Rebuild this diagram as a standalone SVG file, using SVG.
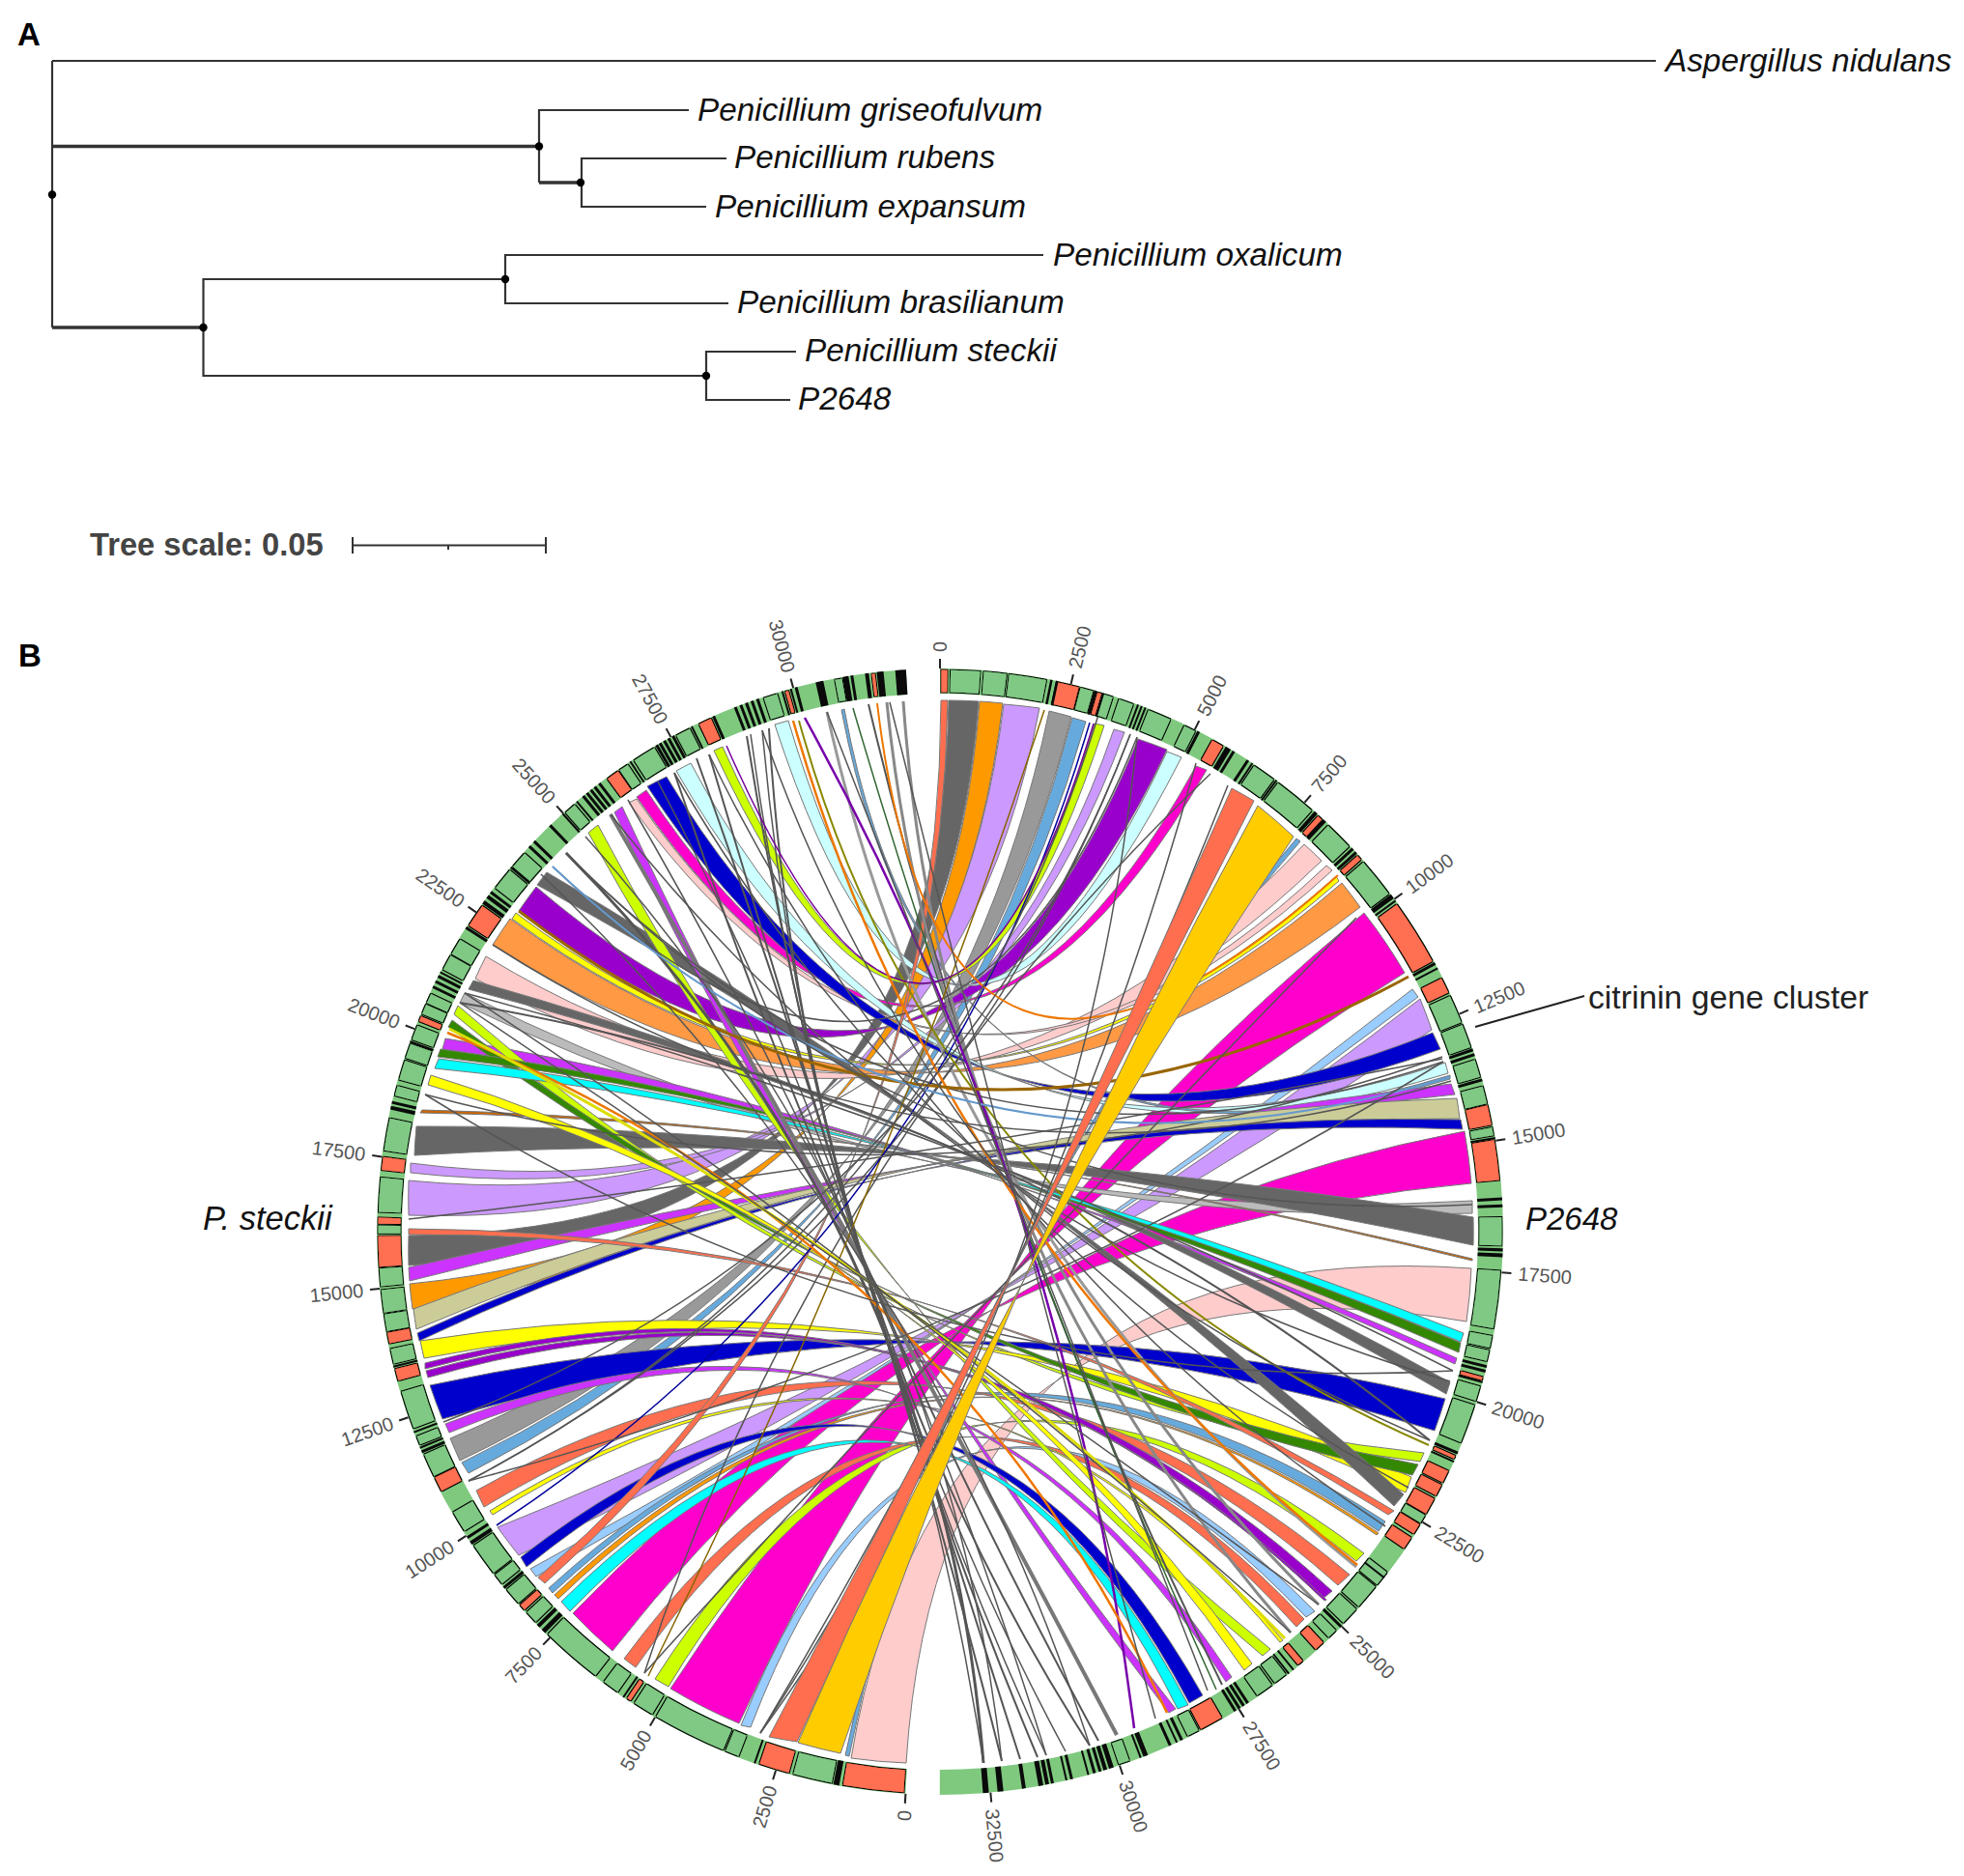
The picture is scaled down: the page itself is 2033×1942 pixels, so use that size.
<svg xmlns="http://www.w3.org/2000/svg" width="2033" height="1942" viewBox="0 0 2033 1942">
<style>
text{font-family:"Liberation Sans",Arial,sans-serif}
.sp{font-style:italic;font-size:33.3px;fill:#111}
.pl{font-weight:bold;font-size:33px;fill:#000}
.tick text{font-size:20px;fill:#555}
.tick line{stroke:#222;stroke-width:2}
#tree-connectors path{fill:none;stroke:#333;stroke-width:2.2}
#tree-connectors .th{stroke-width:3.4}
.nd{fill:#000}
.ring circle{r:57.2958px;fill:none}
.base circle{stroke:#7fc97f;stroke-width:2.6}
.g circle{stroke:#80c985;stroke-width:2.3}
.r circle{stroke:#ff7052;stroke-width:2.3}
.k circle{stroke:#0a0a0a;stroke-width:2.6}
#lines path{fill:none;stroke:#555;stroke-width:1.5}
#ribbons path,#ribbons-top path{stroke:#777;stroke-width:1}
.tom{fill:#ff6e4e}.gr6{fill:#666}.org{fill:#f90}.lav{fill:#c9f}.gr9{fill:#999}.ste{fill:#6ad}.yg{fill:#cf0}.pur{fill:#90c}.pal{fill:#cff}.mag{fill:#f0c}.gol{fill:#fc0}.pin{fill:#fcc}.san{fill:#f94}.ltb{fill:#9cf}.nav{fill:#00c}.vio{fill:#c3f}.kha{fill:#cc9}.cya{fill:#0ff}.dgr{fill:#380}.yel{fill:#ff0}.bro{fill:#c60}.grl{fill:#bbb}
</style>
<defs>
<filter id="o" filterUnits="userSpaceOnUse" x="0" y="0" width="2033" height="1942">
<feMorphology in="SourceAlpha" operator="dilate" radius="1.3" result="d"/>
<feMerge><feMergeNode in="d"/><feMergeNode in="SourceGraphic"/></feMerge>
</filter>
</defs>
<rect width="2033" height="1942" fill="#fff"/>

<text class="pl" x="18" y="47">A</text>
<text class="pl" x="19" y="690">B</text>

<g id="tree-connectors">
<path d="M54 63V339M54 63H1714"/>
<path class="th" d="M54 151.5H558"/>
<path d="M713 114H558V189"/>
<path class="th" d="M558 189H602"/>
<path d="M752 164H602V214H731"/>
<path class="th" d="M54 339H210.5"/>
<path d="M523 289H210.5V389H731"/>
<path d="M1080 264H523V314H754"/>
<path d="M824 364H731V414H818"/>
</g>
<g id="tree-nodes">
<circle class="nd" cx="54" cy="201.5" r="4.2"/>
<circle class="nd" cx="558" cy="151.5" r="4.2"/>
<circle class="nd" cx="601" cy="189" r="4.2"/>
<circle class="nd" cx="210.5" cy="339" r="4.2"/>
<circle class="nd" cx="523" cy="289" r="4.2"/>
<circle class="nd" cx="731" cy="389" r="4.2"/>
</g>
<g id="leaf-aspergillus"><text class="sp" x="1724" y="74">Aspergillus nidulans</text></g>
<g id="leaf-griseofulvum"><text class="sp" x="722" y="125">Penicillium griseofulvum</text></g>
<g id="leaf-rubens"><text class="sp" x="760" y="174">Penicillium rubens</text></g>
<g id="leaf-expansum"><text class="sp" x="740" y="225">Penicillium expansum</text></g>
<g id="leaf-oxalicum"><text class="sp" x="1090" y="275">Penicillium oxalicum</text></g>
<g id="leaf-brasilianum"><text class="sp" x="763" y="324">Penicillium brasilianum</text></g>
<g id="leaf-steckii"><text class="sp" x="833" y="374">Penicillium steckii</text></g>
<g id="leaf-p2648"><text class="sp" x="826" y="424">P2648</text></g>

<g id="scale">
<text x="93" y="575" font-size="32.7" font-weight="bold" fill="#444">Tree scale: 0.05</text>
<path d="M365 564.5H565M365 556V573M565 556V573M464 564.5V569" fill="none" stroke="#333" stroke-width="2"/>
</g>

<g id="ribbons">
<path class="lav" d="M1039 729A552 552 0 0 1 1076 733Q973 1275 423 1222A552 552 0 0 0 423 1258Q973 1275 1039 729Z"/>
<path class="gr6" d="M982 725A552 552 0 0 1 1013 726Q973 1275 423 1279A552 552 0 0 0 423 1310Q973 1275 982 725Z"/>
<path class="org" d="M1014 726A552 552 0 0 1 1038 728Q973 1275 424 1329A552 552 0 0 0 427 1355Q973 1275 1014 726Z"/>
<path class="gr9" d="M1086 736A552 552 0 0 1 1109 742Q973 1275 466 1489A552 552 0 0 0 476 1512Q973 1275 1086 736Z"/>
<path class="ste" d="M1110 743A552 552 0 0 1 1124 747Q973 1275 478 1514A552 552 0 0 0 485 1525Q973 1275 1110 743Z"/>
<path class="yg" d="M1133 749A552 552 0 0 1 1143 751Q973 1275 748 773A552 552 0 0 0 739 777Q973 1275 1133 749Z"/>
<path class="lav" d="M1153 755A552 552 0 0 1 1164 758Q973 1275 425 1204A552 552 0 0 0 425 1214Q973 1275 1153 755Z"/>
<path class="pur" d="M1178 765A552 552 0 0 1 1208 776Q973 1275 555 918A552 552 0 0 0 537 943Q973 1275 1178 765Z"/>
<path class="pal" d="M1208 778A552 552 0 0 1 1223 784Q973 1275 816 746A552 552 0 0 0 802 750Q973 1275 1208 778Z"/>
<path class="mag" d="M1238 793A552 552 0 0 1 1249 797Q973 1275 669 818A552 552 0 0 0 659 825Q973 1275 1238 793Z"/>
<path class="ste" d="M1342 868A552 552 0 0 1 1346 871Q987 1282 875 1817A552 552 0 0 0 879 1818Q987 1282 1342 868Z"/>
<path class="pin" d="M1350 874A552 552 0 0 1 1368 891Q973 1275 503 990A552 552 0 0 0 492 1013Q973 1275 1350 874Z"/>
<path class="pin" d="M1373 896A552 552 0 0 1 1379 901Q973 1275 659 827A552 552 0 0 0 651 831Q973 1275 1373 896Z"/>
<path class="san" d="M1389 914A552 552 0 0 1 1408 939Q973 1275 528 951A552 552 0 0 0 510 978Q973 1275 1389 914Z"/>
<path class="yel" d="M1383 907A552 552 0 0 1 1386 912Q973 1275 534 945A552 552 0 0 0 530 951Q973 1275 1383 907Z"/>
<path class="mag" d="M1412 945A552 552 0 0 1 1454 1007Q992 1292 694 1748A552 552 0 0 0 765 1784Q992 1292 1412 945Z"/>
<path class="mag" d="M1516 1171A552 552 0 0 1 1523 1225Q973 1275 593 1670A552 552 0 0 0 634 1709Q973 1275 1516 1171Z"/>
<path class="pin" d="M1523 1313A552 552 0 0 1 1518 1368Q973 1275 881 1820A552 552 0 0 0 938 1825Q973 1275 1523 1313Z"/>
<path class="ltb" d="M1462 1024A552 552 0 0 1 1468 1032Q1032 1363 549 1624A552 552 0 0 0 555 1632Q1032 1363 1462 1024Z"/>
<path class="lav" d="M1470 1034A552 552 0 0 1 1482 1066Q1031 1373 515 1581A552 552 0 0 0 537 1610Q1031 1373 1470 1034Z"/>
<path class="nav" d="M1483 1069A552 552 0 0 1 1491 1086Q973 1275 690 804A552 552 0 0 0 670 814Q973 1275 1483 1069Z"/>
<path class="pal" d="M1496 1100A552 552 0 0 1 1499 1111Q973 1275 715 790A552 552 0 0 0 700 798Q973 1275 1496 1100Z"/>
<path class="ste" d="M1501 1113A552 552 0 0 1 1501 1117Q973 1275 874 734A552 552 0 0 0 871 735Q973 1275 1501 1113Z"/>
<path class="vio" d="M1502 1122A552 552 0 0 1 1506 1133Q954 1190 423 1312A552 552 0 0 0 424 1326Q954 1190 1502 1122Z"/>
<path class="kha" d="M1508 1137A552 552 0 0 1 1511 1158Q948 1156 428 1355A552 552 0 0 0 431 1376Q948 1156 1508 1137Z"/>
<path class="nav" d="M1512 1159A552 552 0 0 1 1514 1169Q945 1146 432 1380A552 552 0 0 0 434 1388Q945 1146 1512 1159Z"/>
<path class="grl" d="M1524 1243A552 552 0 0 1 1524 1256Q973 1275 481 1028A552 552 0 0 0 476 1038Q973 1275 1524 1243Z"/>
<path class="gr6" d="M1525 1260A552 552 0 0 1 1525 1289Q940 1164 431 1166A552 552 0 0 0 429 1196Q940 1164 1525 1260Z"/>
<path class="bro" d="M1524 1303A552 552 0 0 1 1524 1305Q940 1161 437 1149A552 552 0 0 0 435 1152Q940 1161 1524 1303Z"/>
<path class="vio" d="M1508 1406A552 552 0 0 1 1506 1412Q936 1150 461 1075A552 552 0 0 0 458 1086Q936 1150 1508 1406Z"/>
<path class="gr6" d="M1501 1431A552 552 0 0 1 1497 1443Q1021 1165 490 1015A552 552 0 0 0 485 1024Q1021 1165 1501 1431Z"/>
<path class="yg" d="M1474 1504A552 552 0 0 1 1470 1513Q946 1450 474 1041A552 552 0 0 0 470 1050Q946 1450 1474 1504Z"/>
<path class="yel" d="M1461 1529A552 552 0 0 1 1455 1545Q960 1305 435 1388A552 552 0 0 0 439 1406Q960 1305 1461 1529Z"/>
<path class="nav" d="M1496 1448A552 552 0 0 1 1485 1481Q973 1320 445 1434A552 552 0 0 0 458 1469Q973 1320 1496 1448Z"/>
<path class="dgr" d="M1468 1516A552 552 0 0 1 1462 1527Q946 1416 468 1056A552 552 0 0 0 464 1063Q946 1416 1468 1516Z"/>
<path class="dgr" d="M1512 1390A552 552 0 0 1 1510 1400Q936 1150 456 1086A552 552 0 0 0 453 1094Q936 1150 1512 1390Z"/>
<path class="cya" d="M1515 1380A552 552 0 0 1 1512 1389Q936 1153 454 1096A552 552 0 0 0 450 1106Q936 1153 1515 1380Z"/>
<path class="gr6" d="M1453 1547A552 552 0 0 1 1443 1559Q1041 1181 566 903A552 552 0 0 0 556 916Q1041 1181 1453 1547Z"/>
<path class="tom" d="M1443 1564A552 552 0 0 1 1437 1568Q973 1275 423 1272A552 552 0 0 0 423 1278Q973 1275 1443 1564Z"/>
<path class="ste" d="M1434 1575A552 552 0 0 1 1427 1585Q973 1275 568 1644A552 552 0 0 0 572 1649Q973 1275 1434 1575Z"/>
<path class="org" d="M1427 1587A552 552 0 0 1 1425 1589Q973 1275 574 1651A552 552 0 0 0 578 1655Q973 1275 1427 1587Z"/>
<path class="yg" d="M1412 1608A552 552 0 0 1 1404 1616Q973 1275 678 1738A552 552 0 0 0 692 1746Q973 1275 1412 1608Z"/>
<path class="tom" d="M1397 1630A552 552 0 0 1 1385 1641Q973 1275 493 1543A552 552 0 0 0 501 1560Q973 1275 1397 1630Z"/>
<path class="pur" d="M1379 1647A552 552 0 0 1 1369 1655Q973 1275 441 1419A552 552 0 0 0 443 1426Q973 1275 1379 1647Z"/>
<path class="pur" d="M1373 1656A552 552 0 0 1 1371 1657Q973 1275 440 1411A552 552 0 0 0 440 1417Q973 1275 1373 1656Z"/>
<path class="ltb" d="M1361 1668A552 552 0 0 1 1352 1674Q973 1275 767 1786A552 552 0 0 0 777 1788Q973 1275 1361 1668Z"/>
<path class="tom" d="M1350 1676A552 552 0 0 1 1342 1684Q973 1275 646 1717A552 552 0 0 0 658 1726Q973 1275 1350 1676Z"/>
<path class="yel" d="M1328 1698A552 552 0 0 1 1325 1700Q973 1275 507 1564A552 552 0 0 0 510 1568Q973 1275 1328 1698Z"/>
<path class="yg" d="M1315 1707A552 552 0 0 1 1307 1714Q888 1364 619 854A552 552 0 0 0 609 862Q888 1364 1315 1707Z"/>
<path class="yel" d="M1296 1722A552 552 0 0 1 1288 1729Q973 1275 446 1113A552 552 0 0 0 443 1123Q973 1275 1296 1722Z"/>
<path class="vio" d="M1275 1736A552 552 0 0 1 1269 1741Q973 1275 461 1474A552 552 0 0 0 465 1483Q973 1275 1275 1736Z"/>
<path class="vio" d="M1217 1769A552 552 0 0 1 1210 1773Q876 1337 644 835A552 552 0 0 0 636 841Q876 1337 1217 1769Z"/>
<path class="cya" d="M1230 1765A552 552 0 0 1 1219 1769Q973 1275 581 1658A552 552 0 0 0 590 1668Q973 1275 1230 1765Z"/>
<path class="nav" d="M1245 1755A552 552 0 0 1 1231 1763Q973 1275 539 1612A552 552 0 0 0 545 1622Q973 1275 1245 1755Z"/>
<path class="tom" d="M974 725A552 552 0 0 1 981 725Q973 1275 557 1633A552 552 0 0 0 564 1639Q973 1275 974 725Z"/>
</g>

<g id="lines">
<path style="stroke-width:3" d="M1018 1825Q973 1275 586 883"/>
<path style="stroke-width:2" d="M1037 1823Q905 1297 721 785"/>
<path style="stroke-width:2" d="M1056 1821Q890 1303 734 781"/>
<path style="stroke-width:2" d="M1074 1819Q861 1311 773 762"/>
<path d="M1083 1817Q853 1315 777 760"/>
<path d="M1103 1813Q840 1325 789 756"/>
<path style="stroke-width:2" d="M1128 1807Q831 1345 796 754"/>
<path style="stroke-width:2" d="M1137 1802Q875 1320 698 800"/>
<path style="stroke-width:4;stroke:#777" d="M1156 1796Q903 1314 632 843"/>
<path style="stroke-width:2" d="M1265 1744Q1024 1257 899 729"/>
<path style="stroke:#363" d="M1259 1749Q1035 1253 883 733"/>
<path style="stroke-width:3;stroke:#888" d="M1336 1690Q973 1275 935 726"/>
<path style="stroke-width:3;stroke:#888" d="M1365 1661Q973 1275 918 727"/>
<path style="stroke-width:3;stroke:#999" d="M1404 1622Q973 1275 856 737"/>
<path d="M1493 1094Q973 1275 440 1133"/>
<path d="M1494 1099Q973 1275 586 883"/>
<path d="M1504 1419Q1014 1169 481 1028"/>
<path d="M1170 760Q973 1275 485 1533"/>
<path d="M1177 763Q973 1275 572 897"/>
<path d="M787 1794Q1069 1323 1271 813"/>
<path d="M667 1732Q844 1190 1253 801"/>
<path style="stroke:#880;stroke-width:2" d="M1479 1496Q973 1275 827 746"/>
<path style="stroke:#860;stroke-width:1.5" d="M1081 735Q912 1250 671 1735"/>
<path style="stroke:#009" d="M1128 748Q973 1275 514 1579"/>
<path style="stroke:#709" d="M1132 749Q973 1275 752 772"/>
<path style="stroke:#70a;stroke-width:2.5" d="M1174 1789Q1105 1235 833 743"/>
<path style="stroke:#e70;stroke-width:2.5" d="M1208 1773Q973 1275 463 1069"/>
<path style="stroke:#e70;stroke-width:2.5" d="M1405 1620Q973 1275 821 746"/>
<path style="stroke:#e70;stroke-width:2" d="M1385 906Q973 1275 908 728"/>
<path style="stroke:#960;stroke-width:3" d="M1458 1011Q973 1275 537 943"/>
<path style="stroke:#69c;stroke-width:2" d="M572 897Q973 1275 1500 1115"/>
<path style="stroke-width:2" d="M1480 1491Q1043 1134 476 1038"/>
<path style="stroke:#dd0;stroke-width:3" d="M465 1065Q950 1308 1330 1696"/>
<path d="M787 1794Q1120 1337 1177 763"/>
<path d="M1502 1119Q973 1275 510 978"/>
<path d="M485 1533Q1020 1392 1494 1099"/>
<path d="M1365 1661Q927 1340 476 1038"/>
<path d="M423 1262Q962 1202 1493 1096"/>
<path d="M440 1133Q950 1450 1504 1419"/>
<path d="M481 1028Q934 1326 1336 1690"/>
<path d="M586 883Q973 1275 1524 1247"/>
<path d="M632 843Q973 1275 1501 1430"/>
<path d="M698 800Q973 1275 1480 1491"/>
<path d="M734 781Q973 1275 1458 1540"/>
<path d="M789 756Q973 1275 1434 1580"/>
<path d="M856 737Q1051 1244 1250 1750"/>
<path d="M921 727Q1052 1254 1196 1779"/>
<path d="M485 1533Q973 1275 1137 740"/>
<path d="M459 1472Q973 1275 1170 760"/>
<path d="M667 1732Q1028 1333 1404 950"/>
<path d="M787 1794Q1091 1325 1238 790"/>
<path d="M1128 1807Q958 1285 560 905"/>
<path d="M1083 1817Q924 1297 650 828"/>
<path d="M1037 1823Q973 1275 606 866"/>
<path d="M1018 1825Q935 1288 681 809"/>
</g>

<g id="ribbons-top">
<path class="tom" d="M1275 816A552 552 0 0 1 1298 829Q1052 1314 796 1798A552 552 0 0 0 825 1803Q1052 1314 1275 816Z"/>
<path class="gol" d="M1302 834A552 552 0 0 1 1339 866Q1040 1310 826 1804A552 552 0 0 0 870 1815Q1040 1310 1302 834Z"/>
</g>

<g class="ring" id="ring-base"><g class="base" transform="translate(973 1275) rotate(-90) scale(9.948)">
<circle stroke-dasharray="180 360"/>
<circle stroke-dasharray="173 360" stroke-dashoffset="-183.5"/>
</g></g>

<g class="ring" id="ring-boxes" filter="url(#o)"><g transform="translate(973 1275) rotate(-90) scale(9.948)">
<g class="g">
<circle stroke-dasharray="3 360" stroke-dashoffset="-1.1"/><circle stroke-dasharray="2.3 360" stroke-dashoffset="-4.5"/><circle stroke-dasharray="3.8 360" stroke-dashoffset="-7.1"/><circle stroke-dasharray="1.3 360" stroke-dashoffset="-14.5"/><circle stroke-dasharray=".9 360" stroke-dashoffset="-17"/><circle stroke-dasharray="1.5 360" stroke-dashoffset="-18.6"/><circle stroke-dasharray="2.4 360" stroke-dashoffset="-21.8"/><circle stroke-dasharray="1.2 360" stroke-dashoffset="-25.8"/><circle stroke-dasharray="2.4 360" stroke-dashoffset="-34"/><circle stroke-dasharray="4.4 360" stroke-dashoffset="-37"/><circle stroke-dasharray="3 360" stroke-dashoffset="-43.7"/><circle stroke-dasharray="4.1 360" stroke-dashoffset="-48.9"/><circle stroke-dasharray="2.9 360" stroke-dashoffset="-65.2"/><circle stroke-dasharray="2.4 360" stroke-dashoffset="-68.4"/><circle stroke-dasharray="1.8 360" stroke-dashoffset="-72.2"/><circle stroke-dasharray="1.8 360" stroke-dashoffset="-75"/><circle stroke-dasharray=".8 360" stroke-dashoffset="-79.3"/><circle stroke-dasharray="2.9 360" stroke-dashoffset="-88.5"/><circle stroke-dasharray="5.9 360" stroke-dashoffset="-94"/><circle stroke-dasharray="1.2 360" stroke-dashoffset="-100.7"/><circle stroke-dasharray="1.1 360" stroke-dashoffset="-102.2"/><circle stroke-dasharray="1.5 360" stroke-dashoffset="-106"/><circle stroke-dasharray="4 360" stroke-dashoffset="-108"/><circle stroke-dasharray=".9 360" stroke-dashoffset="-120.3"/><circle stroke-dasharray="1.6 360" stroke-dashoffset="-127.3"/><circle stroke-dasharray="2.6 360" stroke-dashoffset="-129.2"/><circle stroke-dasharray="1.9 360" stroke-dashoffset="-132.2"/><circle stroke-dasharray="1 360" stroke-dashoffset="-135.2"/><circle stroke-dasharray="1.4 360" stroke-dashoffset="-142"/><circle stroke-dasharray="1.8 360" stroke-dashoffset="-143.8"/><circle stroke-dasharray="1.2 360" stroke-dashoffset="-152.6"/><circle stroke-dasharray="1.1 360" stroke-dashoffset="-160.3"/>
<circle stroke-dasharray="4 360" stroke-dashoffset="-191.1"/><circle stroke-dasharray="1.4 360" stroke-dashoffset="-201"/><circle stroke-dasharray="7.6 360" stroke-dashoffset="-202.7"/><circle stroke-dasharray="2.1 360" stroke-dashoffset="-210.8"/><circle stroke-dasharray="1.7 360" stroke-dashoffset="-215"/><circle stroke-dasharray="6.4 360" stroke-dashoffset="-217.8"/><circle stroke-dasharray="1.3 360" stroke-dashoffset="-226"/><circle stroke-dasharray="1.8 360" stroke-dashoffset="-228.6"/><circle stroke-dasharray="1.1 360" stroke-dashoffset="-231.2"/><circle stroke-dasharray="3.4 360" stroke-dashoffset="-232.6"/><circle stroke-dasharray="2.2 360" stroke-dashoffset="-237.8"/><circle stroke-dasharray="2.4 360" stroke-dashoffset="-244.2"/><circle stroke-dasharray=".9 360" stroke-dashoffset="-247.7"/><circle stroke-dasharray="3.9 360" stroke-dashoffset="-249.5"/><circle stroke-dasharray="1.5 360" stroke-dashoffset="-256.4"/><circle stroke-dasharray="1.7 360" stroke-dashoffset="-259.8"/><circle stroke-dasharray="2.3 360" stroke-dashoffset="-261.7"/><circle stroke-dasharray="1.8 360" stroke-dashoffset="-264.4"/><circle stroke-dasharray=".8 360" stroke-dashoffset="-269.8"/><circle stroke-dasharray="3.5 360" stroke-dashoffset="-272"/><circle stroke-dasharray="3.3 360" stroke-dashoffset="-278.3"/><circle stroke-dasharray="1 360" stroke-dashoffset="-284"/><circle stroke-dasharray="2 360" stroke-dashoffset="-285.7"/><circle stroke-dasharray="1.5 360" stroke-dashoffset="-288"/><circle stroke-dasharray="1.5 360" stroke-dashoffset="-290"/><circle stroke-dasharray="1 360" stroke-dashoffset="-292.8"/><circle stroke-dasharray="1 360" stroke-dashoffset="-294"/><circle stroke-dasharray="1.6 360" stroke-dashoffset="-297.8"/><circle stroke-dasharray="1.7 360" stroke-dashoffset="-299.6"/><circle stroke-dasharray="2.3 360" stroke-dashoffset="-307.7"/><circle stroke-dasharray="1.8 360" stroke-dashoffset="-310.5"/><circle stroke-dasharray="1.2 360" stroke-dashoffset="-318.2"/><circle stroke-dasharray="1 360" stroke-dashoffset="-325.2"/><circle stroke-dasharray="2.4 360" stroke-dashoffset="-327"/><circle stroke-dasharray="1.5 360" stroke-dashoffset="-332"/><circle stroke-dasharray="1.4 360" stroke-dashoffset="-341.7"/><circle stroke-dasharray=".7 360" stroke-dashoffset="-349.2"/>
</g>
<g class="r">
<circle stroke-dasharray=".6 360" stroke-dashoffset="-.15"/><circle stroke-dasharray="2.3 360" stroke-dashoffset="-12"/><circle stroke-dasharray=".4 360" stroke-dashoffset="-16.3"/><circle stroke-dasharray="1.2 360" stroke-dashoffset="-29"/><circle stroke-dasharray=".5 360" stroke-dashoffset="-42.3"/><circle stroke-dasharray=".5 360" stroke-dashoffset="-48"/><circle stroke-dasharray="6.8 360" stroke-dashoffset="-54.4"/><circle stroke-dasharray="1.6 360" stroke-dashoffset="-63.2"/><circle stroke-dasharray="2 360" stroke-dashoffset="-77"/><circle stroke-dasharray="4.1 360" stroke-dashoffset="-80.6"/><circle stroke-dasharray=".3 360" stroke-dashoffset="-105"/><circle stroke-dasharray=".3 360" stroke-dashoffset="-113.5"/><circle stroke-dasharray="1.3 360" stroke-dashoffset="-115.2"/><circle stroke-dasharray="1.2 360" stroke-dashoffset="-116.8"/><circle stroke-dasharray="1.7 360" stroke-dashoffset="-118.4"/><circle stroke-dasharray="1.1 360" stroke-dashoffset="-121.4"/><circle stroke-dasharray="1.3 360" stroke-dashoffset="-123"/><circle stroke-dasharray="1 360" stroke-dashoffset="-137"/><circle stroke-dasharray=".6 360" stroke-dashoffset="-139.8"/><circle stroke-dasharray="2.4 360" stroke-dashoffset="-149.9"/>
<circle stroke-dasharray="6.2 360" stroke-dashoffset="-183.7"/><circle stroke-dasharray="3.1 360" stroke-dashoffset="-195.6"/><circle stroke-dasharray=".4 360" stroke-dashoffset="-213.4"/><circle stroke-dasharray=".6 360" stroke-dashoffset="-227.7"/><circle stroke-dasharray="1.5 360" stroke-dashoffset="-242.5"/><circle stroke-dasharray="1.2 360" stroke-dashoffset="-254.6"/><circle stroke-dasharray="1.1 360" stroke-dashoffset="-258.5"/><circle stroke-dasharray="3.1 360" stroke-dashoffset="-266.4"/><circle stroke-dasharray=".6 360" stroke-dashoffset="-270.8"/><circle stroke-dasharray="1.3 360" stroke-dashoffset="-276.3"/><circle stroke-dasharray=".5 360" stroke-dashoffset="-292"/><circle stroke-dasharray="2.4 360" stroke-dashoffset="-303"/><circle stroke-dasharray="1.3 360" stroke-dashoffset="-323.7"/><circle stroke-dasharray="1.3 360" stroke-dashoffset="-334.6"/><circle stroke-dasharray=".3 360" stroke-dashoffset="-344"/><circle stroke-dasharray=".3 360" stroke-dashoffset="-353"/>
</g>
</g></g>

<g class="ring" id="ring-bars"><g class="k" transform="translate(973 1275) rotate(-90) scale(9.948)">
<circle stroke-dasharray=".25 360" stroke-dashoffset="-11.3"/><circle stroke-dasharray=".25 360" stroke-dashoffset="-11.9"/><circle stroke-dasharray=".3 360" stroke-dashoffset="-15.9"/><circle stroke-dasharray=".15 360" stroke-dashoffset="-16.8"/><circle stroke-dasharray=".2 360" stroke-dashoffset="-20.5"/><circle stroke-dasharray=".2 360" stroke-dashoffset="-20.9"/><circle stroke-dasharray=".2 360" stroke-dashoffset="-21.3"/><circle stroke-dasharray=".3 360" stroke-dashoffset="-27.2"/><circle stroke-dasharray=".6 360" stroke-dashoffset="-30.5"/><circle stroke-dasharray=".3 360" stroke-dashoffset="-31.3"/><circle stroke-dasharray=".3 360" stroke-dashoffset="-33"/><circle stroke-dasharray=".2 360" stroke-dashoffset="-33.6"/><circle stroke-dasharray=".2 360" stroke-dashoffset="-36.6"/><circle stroke-dasharray=".4 360" stroke-dashoffset="-41.7"/><circle stroke-dasharray=".4 360" stroke-dashoffset="-42.9"/><circle stroke-dasharray=".3 360" stroke-dashoffset="-47"/><circle stroke-dasharray=".3 360" stroke-dashoffset="-47.5"/><circle stroke-dasharray=".5 360" stroke-dashoffset="-53.2"/><circle stroke-dasharray=".2 360" stroke-dashoffset="-53.9"/><circle stroke-dasharray=".3 360" stroke-dashoffset="-61.4"/><circle stroke-dasharray=".2 360" stroke-dashoffset="-62"/><circle stroke-dasharray=".3 360" stroke-dashoffset="-71"/><circle stroke-dasharray=".3 360" stroke-dashoffset="-71.5"/><circle stroke-dasharray=".3 360" stroke-dashoffset="-74.2"/><circle stroke-dasharray=".2 360" stroke-dashoffset="-80.3"/><circle stroke-dasharray=".3 360" stroke-dashoffset="-86.5"/><circle stroke-dasharray=".3 360" stroke-dashoffset="-87.2"/><circle stroke-dasharray=".3 360" stroke-dashoffset="-91.7"/><circle stroke-dasharray=".4 360" stroke-dashoffset="-92.2"/><circle stroke-dasharray=".3 360" stroke-dashoffset="-103.7"/><circle stroke-dasharray=".3 360" stroke-dashoffset="-104.2"/><circle stroke-dasharray=".2 360" stroke-dashoffset="-105.4"/><circle stroke-dasharray=".3 360" stroke-dashoffset="-113"/><circle stroke-dasharray=".2 360" stroke-dashoffset="-114"/><circle stroke-dasharray=".2 360" stroke-dashoffset="-127.8"/><circle stroke-dasharray=".3 360" stroke-dashoffset="-134.4"/><circle stroke-dasharray=".2 360" stroke-dashoffset="-141"/><circle stroke-dasharray=".2 360" stroke-dashoffset="-141.6"/><circle stroke-dasharray=".3 360" stroke-dashoffset="-146.7"/><circle stroke-dasharray=".3 360" stroke-dashoffset="-147.2"/><circle stroke-dasharray=".3 360" stroke-dashoffset="-147.7"/><circle stroke-dasharray=".3 360" stroke-dashoffset="-148.2"/><circle stroke-dasharray=".3 360" stroke-dashoffset="-154.4"/><circle stroke-dasharray=".2 360" stroke-dashoffset="-155"/><circle stroke-dasharray=".3 360" stroke-dashoffset="-155.7"/><circle stroke-dasharray=".5 360" stroke-dashoffset="-158.3"/><circle stroke-dasharray=".2 360" stroke-dashoffset="-159"/><circle stroke-dasharray=".5 360" stroke-dashoffset="-162"/><circle stroke-dasharray=".4 360" stroke-dashoffset="-162.7"/><circle stroke-dasharray=".3 360" stroke-dashoffset="-163.3"/><circle stroke-dasharray=".3 360" stroke-dashoffset="-163.9"/><circle stroke-dasharray=".2 360" stroke-dashoffset="-164.6"/><circle stroke-dasharray=".3 360" stroke-dashoffset="-166.3"/><circle stroke-dasharray=".2 360" stroke-dashoffset="-166.9"/><circle stroke-dasharray=".3 360" stroke-dashoffset="-168.3"/><circle stroke-dasharray=".4 360" stroke-dashoffset="-168.8"/><circle stroke-dasharray=".5 360" stroke-dashoffset="-169.4"/><circle stroke-dasharray=".4 360" stroke-dashoffset="-171.2"/><circle stroke-dasharray=".6 360" stroke-dashoffset="-173.5"/><circle stroke-dasharray=".6 360" stroke-dashoffset="-175"/>
<circle stroke-dasharray=".6 360" stroke-dashoffset="-190.3"/><circle stroke-dasharray=".2 360" stroke-dashoffset="-199.1"/><circle stroke-dasharray=".2 360" stroke-dashoffset="-214.1"/><circle stroke-dasharray=".5 360" stroke-dashoffset="-224.5"/><circle stroke-dasharray=".4 360" stroke-dashoffset="-225.3"/><circle stroke-dasharray=".3 360" stroke-dashoffset="-230.6"/><circle stroke-dasharray=".4 360" stroke-dashoffset="-236.2"/><circle stroke-dasharray=".3 360" stroke-dashoffset="-236.9"/><circle stroke-dasharray=".3 360" stroke-dashoffset="-246.8"/><circle stroke-dasharray=".2 360" stroke-dashoffset="-247.3"/><circle stroke-dasharray=".2 360" stroke-dashoffset="-249"/><circle stroke-dasharray=".2 360" stroke-dashoffset="-256"/><circle stroke-dasharray=".4 360" stroke-dashoffset="-282.5"/><circle stroke-dasharray=".3 360" stroke-dashoffset="-283.1"/><circle stroke-dasharray=".2 360" stroke-dashoffset="-289.6"/><circle stroke-dasharray=".3 360" stroke-dashoffset="-295.6"/><circle stroke-dasharray=".3 360" stroke-dashoffset="-296.2"/><circle stroke-dasharray=".3 360" stroke-dashoffset="-296.8"/><circle stroke-dasharray=".2 360" stroke-dashoffset="-297.3"/><circle stroke-dasharray=".3 360" stroke-dashoffset="-302.5"/><circle stroke-dasharray=".4 360" stroke-dashoffset="-305.6"/><circle stroke-dasharray=".4 360" stroke-dashoffset="-306.3"/><circle stroke-dasharray=".3 360" stroke-dashoffset="-306.9"/><circle stroke-dasharray=".2 360" stroke-dashoffset="-310.2"/><circle stroke-dasharray=".3 360" stroke-dashoffset="-313"/><circle stroke-dasharray=".3 360" stroke-dashoffset="-313.7"/><circle stroke-dasharray=".3 360" stroke-dashoffset="-316"/><circle stroke-dasharray=".2 360" stroke-dashoffset="-317.8"/><circle stroke-dasharray=".2 360" stroke-dashoffset="-319.7"/><circle stroke-dasharray=".3 360" stroke-dashoffset="-320.5"/><circle stroke-dasharray=".3 360" stroke-dashoffset="-321"/><circle stroke-dasharray=".3 360" stroke-dashoffset="-321.5"/><circle stroke-dasharray=".3 360" stroke-dashoffset="-322"/><circle stroke-dasharray=".3 360" stroke-dashoffset="-322.6"/><circle stroke-dasharray=".2 360" stroke-dashoffset="-326.5"/><circle stroke-dasharray=".3 360" stroke-dashoffset="-329.6"/><circle stroke-dasharray=".3 360" stroke-dashoffset="-330"/><circle stroke-dasharray=".3 360" stroke-dashoffset="-330.5"/><circle stroke-dasharray=".3 360" stroke-dashoffset="-331"/><circle stroke-dasharray=".3 360" stroke-dashoffset="-331.5"/><circle stroke-dasharray=".2 360" stroke-dashoffset="-333.7"/><circle stroke-dasharray=".3 360" stroke-dashoffset="-336.1"/><circle stroke-dasharray=".3 360" stroke-dashoffset="-338.5"/><circle stroke-dasharray=".3 360" stroke-dashoffset="-339.1"/><circle stroke-dasharray=".3 360" stroke-dashoffset="-339.7"/><circle stroke-dasharray=".3 360" stroke-dashoffset="-340.3"/><circle stroke-dasharray=".3 360" stroke-dashoffset="-340.9"/><circle stroke-dasharray=".2 360" stroke-dashoffset="-343.6"/><circle stroke-dasharray=".2 360" stroke-dashoffset="-344.5"/><circle stroke-dasharray=".3 360" stroke-dashoffset="-345"/><circle stroke-dasharray=".8 360" stroke-dashoffset="-347.2"/><circle stroke-dasharray=".6 360" stroke-dashoffset="-350"/><circle stroke-dasharray=".3 360" stroke-dashoffset="-350.8"/><circle stroke-dasharray=".4 360" stroke-dashoffset="-352.3"/><circle stroke-dasharray=".7 360" stroke-dashoffset="-353.5"/><circle stroke-dasharray="1.1 360" stroke-dashoffset="-355.4"/>
</g></g>

<g class="tick" id="ticks-p2648" transform="translate(973 1275)">
<g transform="rotate(-90)"><line x1="583" x2="593"/><text x="600" dy=".35em">0</text></g>
<g transform="rotate(-76.55)"><line x1="583" x2="593"/><text x="600" dy=".35em">2500</text></g>
<g transform="rotate(-63.1)"><line x1="583" x2="593"/><text x="600" dy=".35em">5000</text></g>
<g transform="rotate(-49.65)"><line x1="583" x2="593"/><text x="600" dy=".35em">7500</text></g>
<g transform="rotate(-36.2)"><line x1="583" x2="593"/><text x="600" dy=".35em">10000</text></g>
<g transform="rotate(-22.75)"><line x1="583" x2="593"/><text x="600" dy=".35em">12500</text></g>
<g transform="rotate(-9.3)"><line x1="583" x2="593"/><text x="600" dy=".35em">15000</text></g>
<g transform="rotate(4.15)"><line x1="583" x2="593"/><text x="600" dy=".35em">17500</text></g>
<g transform="rotate(17.6)"><line x1="583" x2="593"/><text x="600" dy=".35em">20000</text></g>
<g transform="rotate(31.05)"><line x1="583" x2="593"/><text x="600" dy=".35em">22500</text></g>
<g transform="rotate(44.5)"><line x1="583" x2="593"/><text x="600" dy=".35em">25000</text></g>
<g transform="rotate(57.95)"><line x1="583" x2="593"/><text x="600" dy=".35em">27500</text></g>
<g transform="rotate(71.4)"><line x1="583" x2="593"/><text x="600" dy=".35em">30000</text></g>
<g transform="rotate(84.85)"><line x1="583" x2="593"/><text x="600" dy=".35em">32500</text></g>
</g>
<g class="tick" id="ticks-steckii" transform="translate(973 1275)">
<g transform="rotate(93.5)"><line x1="583" x2="593"/><text transform="translate(600) rotate(180)" text-anchor="end" dy=".35em">0</text></g>
<g transform="rotate(106.95)"><line x1="583" x2="593"/><text transform="translate(600) rotate(180)" text-anchor="end" dy=".35em">2500</text></g>
<g transform="rotate(120.4)"><line x1="583" x2="593"/><text transform="translate(600) rotate(180)" text-anchor="end" dy=".35em">5000</text></g>
<g transform="rotate(133.85)"><line x1="583" x2="593"/><text transform="translate(600) rotate(180)" text-anchor="end" dy=".35em">7500</text></g>
<g transform="rotate(147.3)"><line x1="583" x2="593"/><text transform="translate(600) rotate(180)" text-anchor="end" dy=".35em">10000</text></g>
<g transform="rotate(160.75)"><line x1="583" x2="593"/><text transform="translate(600) rotate(180)" text-anchor="end" dy=".35em">12500</text></g>
<g transform="rotate(174.2)"><line x1="583" x2="593"/><text transform="translate(600) rotate(180)" text-anchor="end" dy=".35em">15000</text></g>
<g transform="rotate(187.65)"><line x1="583" x2="593"/><text transform="translate(600) rotate(180)" text-anchor="end" dy=".35em">17500</text></g>
<g transform="rotate(201.1)"><line x1="583" x2="593"/><text transform="translate(600) rotate(180)" text-anchor="end" dy=".35em">20000</text></g>
<g transform="rotate(214.55)"><line x1="583" x2="593"/><text transform="translate(600) rotate(180)" text-anchor="end" dy=".35em">22500</text></g>
<g transform="rotate(228)"><line x1="583" x2="593"/><text transform="translate(600) rotate(180)" text-anchor="end" dy=".35em">25000</text></g>
<g transform="rotate(241.45)"><line x1="583" x2="593"/><text transform="translate(600) rotate(180)" text-anchor="end" dy=".35em">27500</text></g>
<g transform="rotate(254.9)"><line x1="583" x2="593"/><text transform="translate(600) rotate(180)" text-anchor="end" dy=".35em">30000</text></g>
</g>

<g id="label-steckii"><text x="210" y="1273" font-size="34.5" font-style="italic" fill="#111">P. steckii</text></g>
<g id="label-p2648"><text x="1579" y="1273" font-size="33" font-style="italic" fill="#111">P2648</text></g>
<g id="label-citrinin"><path d="M1527 1063L1640 1031" stroke="#222" stroke-width="2" fill="none"/><text x="1644" y="1044" font-size="33.7" fill="#222">citrinin gene cluster</text></g>
</svg>
